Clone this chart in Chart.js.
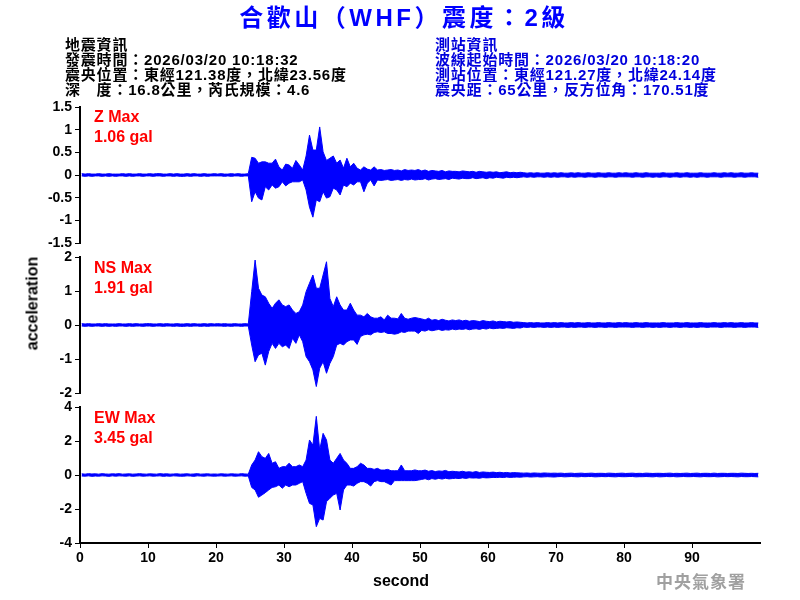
<!DOCTYPE html>
<html lang="zh-Hant">
  <head>
    <meta charset="UTF-8" />
    <title>合歡山（WHF）震度：2級</title>
    <script src="https://cdn.jsdelivr.net/npm/chart.js"></script>
    <style>
      body {
        margin: 0;
        background: #fff;
        font-family: "Liberation Sans", Arial, "Noto Sans CJK TC", sans-serif;
        font-weight: bold;
      }
      #wrap {
        position: relative;
        width: 800px;
        height: 600px;
        overflow: hidden;
      }
      #wrap canvas {
        position: absolute;
        left: 0;
        top: 0;
      }
      .txt {
        position: absolute;
        white-space: nowrap;
        line-height: 15px;
      }
      #title {
        left: 0;
        width: 808px;
        top: 5px;
        text-align: center;
        font-size: 24px;
        line-height: 26px;
        color: #0000ff;
        letter-spacing: 3.5px;
      }
      .info { font-size: 15px; top: 37px; letter-spacing: 0.8px; }
      .red { color: #ff0000; font-size: 16px; line-height: 20px; left: 94px; }
    </style>
  </head>
  <body>
    <div id="wrap">
      <canvas id="zChart" width="800" height="600"></canvas>
      <canvas id="nsChart" width="800" height="600"></canvas>
      <canvas id="ewChart" width="800" height="600"></canvas>

      <div id="title" class="txt">合歡山（WHF）震度：2級</div>
      <div class="txt info" style="left:65px; color:#000">
        地震資訊<br />發震時間：2026/03/20 10:18:32<br />震央位置：東經121.38度，北緯23.56度<br />深　度：16.8公里，芮氏規模：4.6
      </div>
      <div class="txt info" style="left:435px; color:#0000dd">
        測站資訊<br />波線起始時間：2026/03/20 10:18:20<br />測站位置：東經121.27度，北緯24.14度<br />震央距：65公里，反方位角：170.51度
      </div>

      <div class="txt red" style="top:107px">Z Max<br />1.06 gal</div>
      <div class="txt red" style="top:258px">NS Max<br />1.91 gal</div>
      <div class="txt red" style="top:408px">EW Max<br />3.45 gal</div>

      <div class="txt" style="font-size:16px; left:-18px; top:296px; width:100px; text-align:center; transform:rotate(-90deg)">acceleration</div>
      <div class="txt" style="font-size:16px; left:351px; top:573px; width:100px; text-align:center">second</div>
      <div class="txt" style="font-size:17px; left:656px; top:573px; color:#a0a0a0; letter-spacing:1px; font-family:'Noto Sans CJK TC', sans-serif">中央氣象署</div>
    </div>

    <script>
      // seconds per bin; each bin holds the peak and trough
      const binSec = 0.5;

      const xTicks = [0, 10, 20, 30, 40, 50, 60, 70, 80, 90];
      const zTicks = [-1.5, -1, -0.5, 0, 0.5, 1, 1.5];
      const nsTicks = [-2, -1, 0, 1, 2];
      const ewTicks = [-4, -2, 0, 2, 4];

      const zHi = [
        0.03,0.02,0.03,0.02,0.02,0.03,0.02,0.02,0.03,0.02,
        0.02,0.02,0.03,0.02,0.03,0.02,0.02,0.03,0.02,0.02,
        0.03,0.02,0.03,0.03,0.02,0.02,0.03,0.02,0.03,0.02,
        0.02,0.03,0.02,0.03,0.02,0.02,0.03,0.02,0.02,0.03,
        0.02,0.03,0.02,0.02,0.03,0.02,0.03,0.02,0.02,0.03,
        0.39,0.37,0.26,0.29,0.29,0.26,0.26,0.35,0.18,0.11,
        0.24,0.22,0.15,0.32,0.22,0.11,0.42,0.88,0.55,0.55,
        1.06,0.51,0.32,0.37,0.42,0.26,0.33,0.15,0.37,0.18,
        0.26,0.15,0.11,0.18,0.13,0.11,0.18,0.11,0.12,0.10,
        0.11,0.12,0.10,0.11,0.09,0.12,0.10,0.11,0.10,0.12,
        0.09,0.11,0.08,0.10,0.09,0.08,0.10,0.07,0.09,0.08,
        0.08,0.07,0.09,0.08,0.07,0.08,0.06,0.08,0.07,0.06,
        0.07,0.06,0.07,0.05,0.06,0.07,0.05,0.06,0.05,0.06,
        0.05,0.04,0.05,0.04,0.05,0.04,0.04,0.05,0.04,0.05,
        0.04,0.05,0.04,0.04,0.05,0.04,0.05,0.04,0.04,0.05,
        0.04,0.04,0.05,0.04,0.04,0.05,0.04,0.04,0.05,0.04,
        0.05,0.04,0.04,0.05,0.04,0.04,0.05,0.04,0.04,0.04,
        0.04,0.05,0.04,0.04,0.04,0.05,0.04,0.04,0.05,0.04,
        0.04,0.04,0.05,0.04,0.04,0.04,0.05,0.04,0.04,0.05,
        0.04,0.05,0.04,0.04,0.05,0.04,0.04,0.05,0.04,0.04
      ];
      const zLo = [
        -0.02,-0.03,-0.02,-0.03,-0.02,-0.02,-0.03,-0.02,-0.03,-0.02,
        -0.03,-0.02,-0.02,-0.03,-0.02,-0.03,-0.02,-0.02,-0.03,-0.02,
        -0.02,-0.03,-0.02,-0.02,-0.03,-0.02,-0.02,-0.03,-0.02,-0.03,
        -0.03,-0.02,-0.03,-0.02,-0.02,-0.03,-0.02,-0.03,-0.02,-0.02,
        -0.02,-0.02,-0.03,-0.02,-0.03,-0.02,-0.02,-0.03,-0.02,-0.02,
        -0.59,-0.37,-0.51,-0.55,-0.26,-0.33,-0.22,-0.29,-0.26,-0.15,
        -0.24,-0.18,-0.15,-0.15,-0.15,-0.11,-0.33,-0.71,-0.93,-0.55,
        -0.59,-0.37,-0.51,-0.48,-0.29,-0.33,-0.44,-0.22,-0.26,-0.18,
        -0.22,-0.15,-0.15,-0.37,-0.18,-0.11,-0.24,-0.11,-0.12,-0.11,
        -0.10,-0.12,-0.11,-0.10,-0.12,-0.10,-0.11,-0.09,-0.11,-0.10,
        -0.10,-0.08,-0.11,-0.09,-0.08,-0.10,-0.09,-0.08,-0.10,-0.07,
        -0.08,-0.09,-0.07,-0.08,-0.08,-0.06,-0.08,-0.07,-0.06,-0.08,
        -0.06,-0.07,-0.05,-0.06,-0.07,-0.05,-0.06,-0.05,-0.06,-0.05,
        -0.04,-0.05,-0.04,-0.05,-0.04,-0.04,-0.05,-0.04,-0.05,-0.04,
        -0.05,-0.04,-0.04,-0.05,-0.04,-0.05,-0.04,-0.04,-0.05,-0.04,
        -0.04,-0.05,-0.04,-0.04,-0.05,-0.04,-0.04,-0.05,-0.04,-0.04,
        -0.04,-0.04,-0.05,-0.04,-0.04,-0.05,-0.04,-0.04,-0.05,-0.04,
        -0.05,-0.04,-0.04,-0.05,-0.04,-0.04,-0.05,-0.04,-0.04,-0.05,
        -0.04,-0.05,-0.04,-0.04,-0.05,-0.04,-0.04,-0.04,-0.05,-0.04,
        -0.04,-0.04,-0.05,-0.04,-0.04,-0.05,-0.04,-0.04,-0.04,-0.05
      ];

      const nsHi = [
        0.04,0.03,0.04,0.03,0.03,0.04,0.03,0.04,0.03,0.03,
        0.03,0.04,0.03,0.03,0.04,0.03,0.04,0.03,0.03,0.04,
        0.04,0.03,0.03,0.04,0.03,0.04,0.03,0.03,0.04,0.03,
        0.03,0.04,0.03,0.04,0.03,0.03,0.04,0.03,0.04,0.03,
        0.04,0.03,0.04,0.03,0.03,0.04,0.03,0.03,0.04,0.03,
        0.98,1.91,1.08,0.88,0.83,0.64,0.49,0.64,0.74,0.59,
        0.54,0.59,0.44,0.34,0.39,0.59,0.98,1.23,1.47,1.08,
        1.08,1.47,1.86,0.78,0.54,0.83,0.59,0.44,0.44,0.64,
        0.44,0.29,0.29,0.24,0.34,0.24,0.20,0.20,0.24,0.15,
        0.29,0.20,0.20,0.18,0.34,0.20,0.17,0.20,0.22,0.20,
        0.18,0.15,0.20,0.14,0.16,0.13,0.17,0.14,0.12,0.15,
        0.13,0.15,0.12,0.14,0.11,0.13,0.12,0.10,0.13,0.11,
        0.10,0.12,0.09,0.11,0.10,0.09,0.10,0.08,0.09,0.08,
        0.07,0.06,0.07,0.06,0.07,0.06,0.06,0.07,0.06,0.07,
        0.06,0.07,0.06,0.06,0.07,0.06,0.07,0.06,0.06,0.07,
        0.06,0.06,0.07,0.06,0.06,0.07,0.06,0.06,0.07,0.06,
        0.07,0.06,0.06,0.07,0.06,0.06,0.07,0.06,0.06,0.06,
        0.06,0.07,0.06,0.06,0.06,0.07,0.06,0.06,0.07,0.06,
        0.06,0.06,0.07,0.06,0.06,0.06,0.07,0.06,0.06,0.07,
        0.06,0.07,0.06,0.06,0.07,0.06,0.06,0.07,0.06,0.06
      ];
      const nsLo = [
        -0.03,-0.04,-0.03,-0.04,-0.03,-0.03,-0.04,-0.03,-0.04,-0.03,
        -0.04,-0.03,-0.03,-0.04,-0.03,-0.04,-0.03,-0.03,-0.04,-0.03,
        -0.03,-0.04,-0.03,-0.03,-0.04,-0.03,-0.03,-0.04,-0.03,-0.04,
        -0.04,-0.03,-0.04,-0.03,-0.03,-0.04,-0.03,-0.04,-0.03,-0.03,
        -0.03,-0.03,-0.04,-0.03,-0.04,-0.03,-0.03,-0.04,-0.03,-0.03,
        -0.59,-1.08,-0.88,-0.83,-1.18,-0.78,-0.54,-0.69,-0.54,-0.64,
        -0.59,-0.69,-0.39,-0.54,-0.29,-0.49,-0.93,-1.08,-1.32,-1.81,
        -1.27,-1.08,-1.42,-1.13,-0.93,-0.59,-0.54,-0.59,-0.49,-0.44,
        -0.44,-0.57,-0.34,-0.29,-0.27,-0.29,-0.22,-0.20,-0.22,-0.20,
        -0.25,-0.25,-0.27,-0.25,-0.20,-0.22,-0.18,-0.18,-0.18,-0.25,
        -0.16,-0.18,-0.14,-0.17,-0.15,-0.13,-0.16,-0.14,-0.15,-0.12,
        -0.14,-0.12,-0.13,-0.11,-0.14,-0.12,-0.11,-0.13,-0.10,-0.12,
        -0.09,-0.11,-0.10,-0.09,-0.10,-0.08,-0.09,-0.10,-0.08,-0.09,
        -0.06,-0.07,-0.06,-0.07,-0.06,-0.06,-0.07,-0.06,-0.07,-0.06,
        -0.07,-0.06,-0.06,-0.07,-0.06,-0.07,-0.06,-0.06,-0.07,-0.06,
        -0.06,-0.07,-0.06,-0.06,-0.07,-0.06,-0.06,-0.07,-0.06,-0.06,
        -0.06,-0.06,-0.07,-0.06,-0.06,-0.07,-0.06,-0.06,-0.07,-0.06,
        -0.07,-0.06,-0.06,-0.07,-0.06,-0.06,-0.07,-0.06,-0.06,-0.07,
        -0.06,-0.07,-0.06,-0.06,-0.07,-0.06,-0.06,-0.06,-0.07,-0.06,
        -0.06,-0.06,-0.07,-0.06,-0.06,-0.07,-0.06,-0.06,-0.06,-0.07
      ];

      const ewHi = [
        0.07,0.05,0.08,0.06,0.07,0.05,0.08,0.06,0.05,0.07,
        0.06,0.08,0.05,0.06,0.07,0.05,0.06,0.08,0.06,0.05,
        0.07,0.06,0.05,0.08,0.06,0.07,0.05,0.06,0.07,0.05,
        0.06,0.07,0.05,0.06,0.08,0.05,0.06,0.07,0.05,0.06,
        0.05,0.07,0.06,0.05,0.07,0.06,0.05,0.08,0.06,0.05,
        0.59,0.88,1.37,1.08,0.98,1.27,0.69,0.78,0.39,0.49,
        0.49,0.69,0.49,0.49,0.59,0.49,0.88,2.06,1.76,3.45,
        1.47,2.45,2.06,0.88,0.69,0.98,1.27,0.88,0.69,0.39,
        0.39,0.49,0.69,0.59,0.39,0.39,0.33,0.39,0.29,0.29,
        0.33,0.25,0.25,0.25,0.59,0.25,0.25,0.25,0.30,0.25,
        0.25,0.29,0.22,0.26,0.20,0.24,0.22,0.27,0.19,0.22,
        0.20,0.18,0.22,0.17,0.19,0.16,0.20,0.15,0.18,0.16,
        0.15,0.17,0.14,0.16,0.13,0.15,0.12,0.14,0.13,0.12,
        0.11,0.12,0.10,0.12,0.11,0.10,0.12,0.11,0.10,0.11,
        0.10,0.11,0.09,0.10,0.11,0.09,0.10,0.11,0.09,0.10,
        0.11,0.09,0.10,0.10,0.09,0.11,0.10,0.09,0.10,0.11,
        0.09,0.10,0.11,0.09,0.10,0.09,0.11,0.10,0.09,0.10,
        0.10,0.09,0.10,0.11,0.09,0.10,0.09,0.10,0.11,0.09,
        0.10,0.11,0.09,0.10,0.10,0.09,0.11,0.09,0.10,0.10,
        0.09,0.10,0.10,0.09,0.11,0.10,0.09,0.10,0.09,0.10
      ];
      const ewLo = [
        -0.06,-0.07,-0.05,-0.08,-0.06,-0.07,-0.05,-0.06,-0.08,-0.05,
        -0.07,-0.05,-0.06,-0.07,-0.05,-0.08,-0.06,-0.05,-0.07,-0.06,
        -0.05,-0.07,-0.06,-0.05,-0.08,-0.06,-0.07,-0.05,-0.06,-0.07,
        -0.07,-0.05,-0.06,-0.08,-0.05,-0.06,-0.07,-0.05,-0.06,-0.07,
        -0.06,-0.05,-0.07,-0.06,-0.05,-0.07,-0.06,-0.05,-0.07,-0.06,
        -0.73,-0.88,-1.31,-1.18,-1.04,-0.88,-0.73,-0.69,-0.59,-0.78,
        -0.59,-0.69,-0.59,-0.59,-0.49,-0.39,-1.08,-1.67,-1.76,-3.04,
        -2.55,-2.65,-1.57,-1.37,-1.18,-1.08,-2.06,-0.88,-0.59,-0.59,
        -0.65,-0.49,-0.39,-0.39,-0.49,-0.65,-0.39,-0.33,-0.39,-0.39,
        -0.49,-0.59,-0.33,-0.33,-0.33,-0.33,-0.33,-0.33,-0.33,-0.30,
        -0.26,-0.22,-0.28,-0.21,-0.25,-0.20,-0.24,-0.19,-0.23,-0.21,
        -0.19,-0.21,-0.17,-0.20,-0.16,-0.18,-0.17,-0.19,-0.15,-0.17,
        -0.16,-0.14,-0.15,-0.13,-0.15,-0.12,-0.14,-0.13,-0.12,-0.13,
        -0.11,-0.10,-0.12,-0.11,-0.10,-0.12,-0.11,-0.10,-0.11,-0.12,
        -0.10,-0.09,-0.11,-0.10,-0.09,-0.10,-0.11,-0.09,-0.10,-0.09,
        -0.09,-0.11,-0.10,-0.09,-0.10,-0.09,-0.10,-0.11,-0.09,-0.10,
        -0.10,-0.09,-0.09,-0.11,-0.10,-0.10,-0.09,-0.10,-0.11,-0.09,
        -0.11,-0.10,-0.09,-0.10,-0.09,-0.11,-0.10,-0.09,-0.10,-0.10,
        -0.09,-0.10,-0.11,-0.09,-0.10,-0.10,-0.09,-0.11,-0.10,-0.09,
        -0.10,-0.09,-0.10,-0.11,-0.09,-0.10,-0.10,-0.09,-0.10,-0.11
      ];

      Chart.defaults.font.family = "'Liberation Sans', Arial, sans-serif";
      Chart.defaults.font.weight = "bold";
      Chart.defaults.font.size = 14;
      Chart.defaults.color = "#000";

      // peaks of each bin (upper edge) and troughs (lower edge), both filled to zero
      function edge(vals) {
        return vals.map((v, i) => ({ x: i * binSec + binSec / 2, y: v }));
      }

      function setTicks(list) {
        return (scale) => {
          scale.ticks = list.map((v) => ({ value: v }));
        };
      }

      function band(vals) {
        return {
          data: edge(vals),
          borderColor: "#0000ff",
          backgroundColor: "#0000ff",
          borderWidth: 1,
          pointRadius: 0,
          tension: 0,
          fill: "origin",
        };
      }

      function makePanel(id, hi, lo, ticks, top, bottom, showX) {
        const xHeight = showX ? 30 : 0;
        new Chart(document.getElementById(id), {
          type: "line",
          data: { datasets: [band(hi), band(lo)] },
          options: {
            responsive: false,
            animation: false,
            events: [],
            layout: {
              padding: { top: top, bottom: 600 - bottom - xHeight, left: 0, right: 40 },
            },
            plugins: { legend: { display: false }, tooltip: { enabled: false } },
            scales: {
              x: {
                type: "linear",
                min: 0,
                max: 100,
                display: showX,
                afterBuildTicks: setTicks(xTicks),
                afterFit: (s) => { s.height = xHeight; },
                grid: { drawOnChartArea: false, drawTicks: true, tickLength: 5, color: "#000" },
                border: { color: "#000", width: 2 },
                ticks: { padding: 2, maxRotation: 0, autoSkip: false },
              },
              y: {
                min: ticks[0],
                max: ticks[ticks.length - 1],
                afterBuildTicks: setTicks(ticks),
                afterFit: (s) => { s.width = 80; },
                grid: { drawOnChartArea: false, drawTicks: true, tickLength: 5, color: "#000" },
                border: { color: "#000", width: 2 },
                ticks: { padding: 3, autoSkip: false, callback: (v) => String(v) },
              },
            },
          },
        });
      }

      makePanel("zChart", zHi, zLo, zTicks, 107, 243, false);
      makePanel("nsChart", nsHi, nsLo, nsTicks, 257, 393, false);
      makePanel("ewChart", ewHi, ewLo, ewTicks, 407, 543, true);
    </script>
  </body>
</html>
